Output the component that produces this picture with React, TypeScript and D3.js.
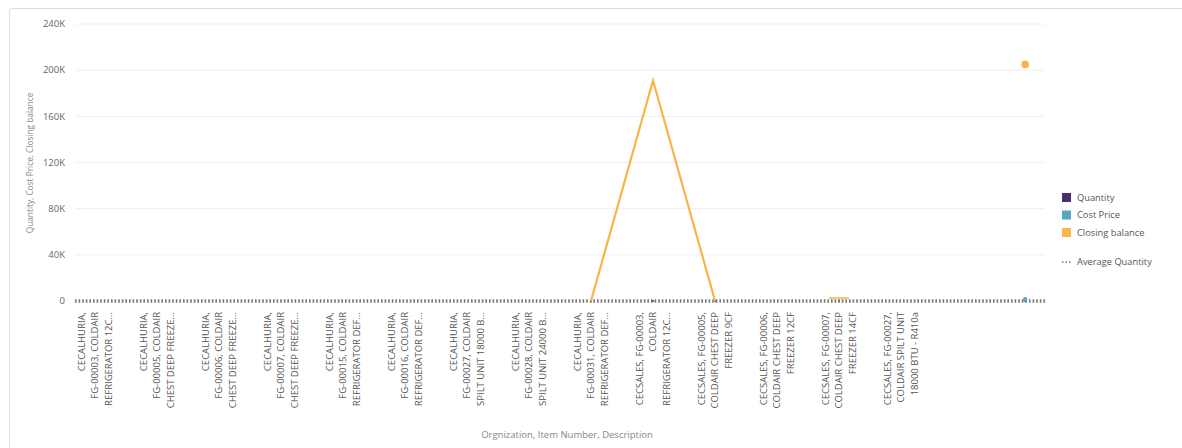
import React from "react";
import * as d3 from "d3";

const categories: string[][] = [
  ["CECALHURIA,", "FG-00003, COLDAIR", "REFRIGERATOR 12C..."],
  ["CECALHURIA,", "FG-00005, COLDAIR", "CHEST DEEP FREEZE..."],
  ["CECALHURIA,", "FG-00006, COLDAIR", "CHEST DEEP FREEZE..."],
  ["CECALHURIA,", "FG-00007, COLDAIR", "CHEST DEEP FREEZE..."],
  ["CECALHURIA,", "FG-00015, COLDAIR", "REFRIGERATOR DEF..."],
  ["CECALHURIA,", "FG-00016, COLDAIR", "REFRIGERATOR DEF..."],
  ["CECALHURIA,", "FG-00027, COLDAIR", "SPILT UNIT 18000 B..."],
  ["CECALHURIA,", "FG-00028, COLDAIR", "SPILT UNIT 24000 B..."],
  ["CECALHURIA,", "FG-00031, COLDAIR", "REFRIGERATOR DEF..."],
  ["CECSALES, FG-00003,", "COLDAIR", "REFRIGERATOR 12C..."],
  ["CECSALES, FG-00005,", "COLDAIR CHEST DEEP", "FREEZER 9CF"],
  ["CECSALES, FG-00006,", "COLDAIR CHEST DEEP", "FREEZER 12CF"],
  ["CECSALES, FG-00007,", "COLDAIR CHEST DEEP", "FREEZER 14CF"],
  ["CECSALES, FG-00027,", "COLDAIR SPILT UNIT", "18000 BTU - R410a"],
  [],
  [],
];

const quantity: (number | null)[] = [null, null, null, null, null, null, null, null, 20, 60, 10, null, 5, null, null, 40];
const costPrice: (number | null)[] = [null, null, null, null, null, null, null, null, null, null, null, null, null, null, null, 1500];
const closingBalance: (number | null)[] = [null, null, null, null, null, null, null, null, 0, 191000, 0, null, 2500, null, null, 205000];
const averageQuantity = 30;

const yTicks = [0, 40000, 80000, 120000, 160000, 200000, 240000];
const legendItems = ["Quantity", "Cost Price", "Closing balance"];
const legendColors = ["#4a2f6b", "#5aa6c0", "#f8b94c"];

export default function App() {
  const W = 1182, H = 448;
  const x0 = 75, x1 = 1045, yTop = 24, yBot = 301;
  const idx = categories.map((_, i) => i);
  const x = d3.scalePoint<number>().domain(idx).range([x0, x1]).padding(0.32);
  const y = d3.scaleLinear().domain([0, 240000]).range([yBot, yTop]);
  const fmt = (v: number) => (v === 0 ? "0" : `${v / 1000}K`);

  const line = d3
    .line<number | null>()
    .defined((d) => d !== null)
    .x((_, i) => x(i)!)
    .y((d) => y(d as number));

  const isolated = (arr: (number | null)[]) =>
    arr
      .map((v, i) => ({ v, i }))
      .filter(
        ({ v, i }) =>
          v !== null && (i === 0 || arr[i - 1] === null) && (i === arr.length - 1 || arr[i + 1] === null)
      );

  const textColor = "#666";
  const font = "'Open Sans', 'Noto Sans', sans-serif";

  return (
    <svg width={W} height={H} style={{ position: "absolute", left: 0, top: 0, background: "#fff" }} fontFamily={font}>
      <rect x={9.5} y={8.5} width={W} height={H} fill="#fff" stroke="#dcdcdc" rx={3} />
      {yTicks.map((t) => (
        <g key={t}>
          {t > 0 && <line x1={x0} x2={x1} y1={y(t)} y2={y(t)} stroke="#f0f0f0" strokeWidth={1} />}
          <text x={65} y={y(t)} dy="0.35em" textAnchor="end" fontSize={9.5} fill={textColor}>
            {fmt(t)}
          </text>
        </g>
      ))}
      <text
        transform={`translate(33,163) rotate(-90)`}
        textAnchor="middle"
        fontSize={8.3}
        fill="#888"
      >
        Quantity, Cost Price, Closing balance
      </text>

      {/* Quantity points (hidden under the average line, near zero) */}
      {quantity.map((v, i) =>
        v === null ? null : <circle key={i} cx={x(i)!} cy={y(v)} r={1} fill={legendColors[0]} />
      )}

      {/* Average quantity dotted line */}
      <line
        x1={x0}
        x2={x1}
        y1={y(averageQuantity)}
        y2={y(averageQuantity)}
        stroke="#777"
        strokeWidth={3.5}
        strokeDasharray="1.6 2"
      />

      {/* Closing balance */}
      <path d={line(closingBalance) || ""} fill="none" stroke="#f6b545" strokeWidth={2.2} strokeLinejoin="miter" />
      {isolated(closingBalance).map(({ v, i }) =>
        v! > 10000 ? (
          <circle key={i} cx={x(i)!} cy={y(v!)} r={3.8} fill="#f6b545" />
        ) : (
          <line key={i} x1={x(i)! - 10} x2={x(i)! + 10} y1={y(v!)} y2={y(v!)} stroke="#f6b545" strokeWidth={2} opacity={0.8} />
        )
      )}
      {isolated(costPrice).map(({ v, i }) => (
        <circle key={i} cx={x(i)!} cy={y(v!)} r={2.2} fill="#5aa6c0" />
      ))}

      {/* X labels */}
      {categories.map((lines, i) => (
        <text
          key={i}
          transform={`translate(${x(i)},312) rotate(-90)`}
          textAnchor="end"
          fontSize={9.5}
          fill="#555"
        >
          {lines.map((l, j) => (
            <tspan key={j} x={0} y={(j - 1) * 13.5 + 3.3}>
              {l}
            </tspan>
          ))}
        </text>
      ))}
      <text x={567} y={438} textAnchor="middle" fontSize={9.5} fill="#888">
        Orgnization, Item Number, Description
      </text>

      {/* Legend */}
      {legendItems.map((name, i) => (
        <g key={name} transform={`translate(1062,${193 + i * 17.5})`}>
          <rect x={0} y={0} width={9} height={9} fill={legendColors[i]} />
          <text x={15} y={4.5} dy="0.35em" fontSize={9.3} fill="#555">
            {name}
          </text>
        </g>
      ))}
      <line x1={1062} x2={1071} y1={262} y2={262} stroke="#777" strokeWidth={1.5} strokeDasharray="1.5 2" />
      <text x={1077} y={262} dy="0.35em" fontSize={9.3} fill="#555">
        Average Quantity
      </text>
    </svg>
  );
}
